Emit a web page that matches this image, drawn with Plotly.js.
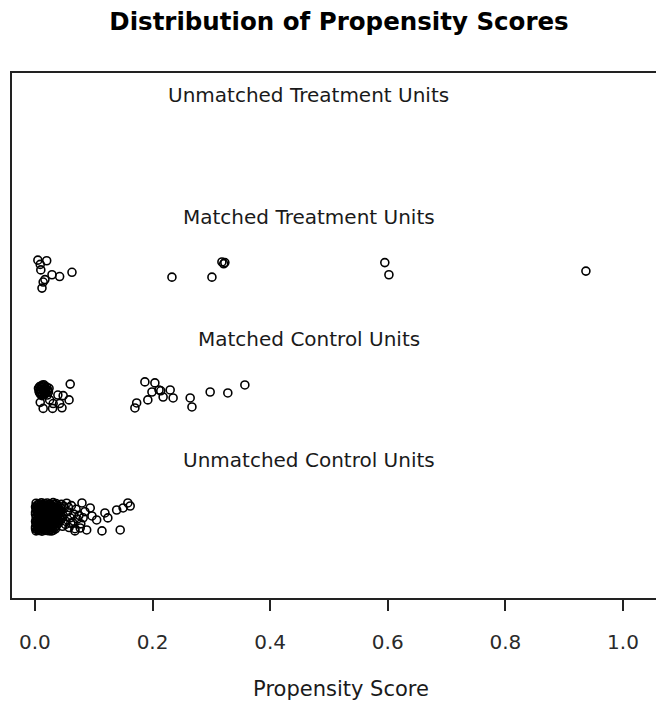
<!DOCTYPE html>
<html>
<head>
<meta charset="utf-8">
<script src="https://cdn.plot.ly/plotly-3.0.1.min.js"></script>
<style>
html,body{margin:0;padding:0;overflow:hidden;background:#fff;}
#chart{width:680px;height:707px;}
</style>
</head>
<body>
<div id="chart"></div>
<script>
// Group labels and their vertical positions
const groupLabels = ["Unmatched Treatment Units", "Matched Treatment Units", "Matched Control Units", "Unmatched Control Units"];
const labelY = [4, 3, 2, 1];
const labelX = 0.466;

// Matched treatment units (propensity score, jittered y)
const mtX = [0.005,0.020,0.009,0.010,0.017,0.014,0.012,0.029,0.042,0.063,0.233,0.301,0.318,0.321,0.323,0.595,0.602,0.937];
const mtY = [2.62,2.615,2.585,2.54,2.46,2.44,2.39,2.50,2.485,2.52,2.48,2.48,2.605,2.59,2.60,2.60,2.50,2.53];

// Matched control units
const mcX = [0.008,0.012,0.016,0.020,0.010,0.014,0.018,0.022,0.007,0.011,0.015,0.019,0.009,0.013,0.017,0.021,0.024,0.006,0.013,0.016,
             0.010,0.019,0.023,0.008,0.015,0.012,
             0.060,0.039,0.048,0.058,0.042,0.031,0.014,0.030,0.046,0.025,0.009,
             0.187,0.204,0.211,0.214,0.199,0.230,0.235,0.218,0.192,0.173,0.170,0.264,0.267,0.298,0.328,0.357];
const mcY = [1.58,1.59,1.585,1.575,1.56,1.555,1.56,1.55,1.54,1.535,1.53,1.54,1.52,1.515,1.52,1.51,1.565,1.565,1.57,1.545,
             1.575,1.525,1.535,1.53,1.595,1.505,
             1.60,1.51,1.505,1.47,1.44,1.44,1.40,1.40,1.405,1.47,1.45,
             1.618,1.610,1.552,1.545,1.535,1.552,1.486,1.494,1.470,1.445,1.404,1.486,1.412,1.535,1.527,1.593];

// Unmatched control units
const ucX = [
 0.002,0.007,0.011,0.016,0.021,0.026,0.031,0.036,
 0.004,0.009,0.013,0.018,0.023,0.028,0.033,0.038,
 0.001,0.005,0.010,0.014,0.019,0.024,0.029,0.034,0.039,
 0.002,0.006,0.012,0.016,0.021,0.026,0.031,0.036,0.041,
 0.003,0.008,0.012,0.017,0.022,0.027,0.032,0.037,0.042,
 0.001,0.005,0.010,0.014,0.019,0.024,0.029,0.034,0.039,0.044,
 0.001,0.006,0.010,0.015,0.020,0.025,0.030,0.035,0.040,
 0.003,0.008,0.013,0.018,0.023,0.028,0.033,0.038,0.043,
 0.002,0.007,0.011,0.016,0.021,0.026,0.031,0.036,0.041,
 0.004,0.009,0.013,0.018,0.023,0.029,0.034,0.039,0.044,
 0.001,0.005,0.009,0.014,0.019,0.024,0.028,0.033,0.038,
 0.002,0.007,0.011,0.016,0.021,0.026,0.031,0.035,0.040,
 0.003,0.008,0.012,0.017,0.022,0.027,0.032,0.037,
 0.001,0.005,0.010,0.014,0.019,0.024,0.029,0.034,
 0.001,0.006,0.010,0.015,0.020,0.025,0.030,0.035,
 0.004,0.009,0.014,0.020,0.026,0.031,
 0.002,0.007,0.012,0.017,0.023,0.028,
 0.045,0.050,0.048,0.053,0.047,0.056,0.060,0.058,0.062,0.066,0.064,0.070,0.072,0.068,0.075,0.078,0.054,0.082,0.085,
 0.049,0.057,0.052,0.061,0.046,
 0.080,0.094,0.097,0.105,0.119,0.124,0.139,0.150,0.158,0.162,0.114,0.145,0.088,0.077,0.068];
const ucY = [
 0.620,0.615,0.624,0.618,0.622,0.612,0.625,0.617,
 0.605,0.601,0.608,0.603,0.606,0.599,0.609,0.602,
 0.590,0.585,0.594,0.588,0.592,0.583,0.596,0.587,0.591,
 0.575,0.571,0.578,0.573,0.577,0.569,0.579,0.572,0.576,
 0.560,0.556,0.565,0.558,0.562,0.554,0.566,0.559,0.561,
 0.545,0.541,0.548,0.543,0.547,0.539,0.549,0.542,0.546,0.544,
 0.530,0.527,0.535,0.528,0.533,0.524,0.536,0.529,0.532,
 0.515,0.511,0.518,0.513,0.517,0.509,0.519,0.512,0.516,
 0.500,0.497,0.505,0.498,0.503,0.494,0.506,0.499,0.502,
 0.485,0.481,0.488,0.483,0.487,0.479,0.489,0.482,0.486,
 0.470,0.466,0.474,0.468,0.472,0.464,0.476,0.469,0.471,
 0.455,0.451,0.458,0.453,0.457,0.449,0.459,0.452,0.456,
 0.440,0.437,0.445,0.438,0.443,0.434,0.446,0.439,
 0.425,0.421,0.428,0.423,0.427,0.419,0.429,0.422,
 0.410,0.406,0.414,0.408,0.412,0.404,0.416,0.409,
 0.400,0.398,0.402,0.399,0.401,0.397,
 0.392,0.395,0.390,0.396,0.393,0.391,
 0.610,0.580,0.520,0.470,0.430,0.550,0.500,0.420,0.600,0.530,0.460,0.570,0.490,0.410,0.520,0.450,0.620,0.500,0.550,
 0.595,0.585,0.445,0.455,0.505,
 0.622,0.581,0.515,0.482,0.540,0.499,0.564,0.581,0.622,0.597,0.392,0.400,0.400,0.416,0.392];

const tickVals = [0, 0.2, 0.4, 0.6, 0.8, 1.0];
const tickText = ["0.0", "0.2", "0.4", "0.6", "0.8", "1.0"];

const mk = {symbol: "circle-open", size: 8, color: "#000", line: {width: 1.6, color: "#000"}};
const traces = [
  {x: mtX, y: mtY, type: "scatter", mode: "markers", marker: mk, hoverinfo: "x"},
  {x: mcX, y: mcY, type: "scatter", mode: "markers", marker: mk, hoverinfo: "x"},
  {x: ucX, y: ucY, type: "scatter", mode: "markers", marker: mk, hoverinfo: "x"}
];

const annotations = groupLabels.map((t, i) => ({
  text: t, x: labelX, y: labelY[i], xref: "x", yref: "y", yshift: -3,
  showarrow: false, xanchor: "center", yanchor: "middle",
  font: {family: "DejaVu Sans", size: 20, color: "#1a1a1a"}
}));

const layout = {
  width: 680, height: 707,
  margin: {l: 12, r: 10, t: 73, b: 109},
  paper_bgcolor: "#fff", plot_bgcolor: "#fff",
  showlegend: false,
  title: {
    text: "<b>Distribution of Propensity Scores</b>",
    font: {family: "DejaVu Sans", size: 24.5, color: "#000"},
    xref: "container", x: 339/680, xanchor: "center",
    yref: "container", y: 1 - 21/707, yanchor: "middle"
  },
  xaxis: {
    range: [-0.039, 1.080],
    tickvals: tickVals, ticktext: tickText,
    ticks: "outside", ticklen: 11, tickwidth: 2, tickcolor: "#222",
    ticklabelstandoff: 14,
    tickfont: {family: "DejaVu Sans", size: 20, color: "#2a2a2a"},
    showline: true, mirror: true, linewidth: 2, linecolor: "#222",
    showgrid: false, zeroline: false,
    title: {text: "Propensity Score", font: {family: "DejaVu Sans", size: 21, color: "#1a1a1a"}, standoff: 28}
  },
  yaxis: {
    range: [-0.16, 4.16],
    showticklabels: false, ticks: "",
    showline: true, mirror: true, linewidth: 2, linecolor: "#222",
    showgrid: false, zeroline: false
  },
  annotations: annotations
};

Plotly.newPlot("chart", traces, layout, {displayModeBar: false, staticPlot: true});
</script>
</body>
</html>
